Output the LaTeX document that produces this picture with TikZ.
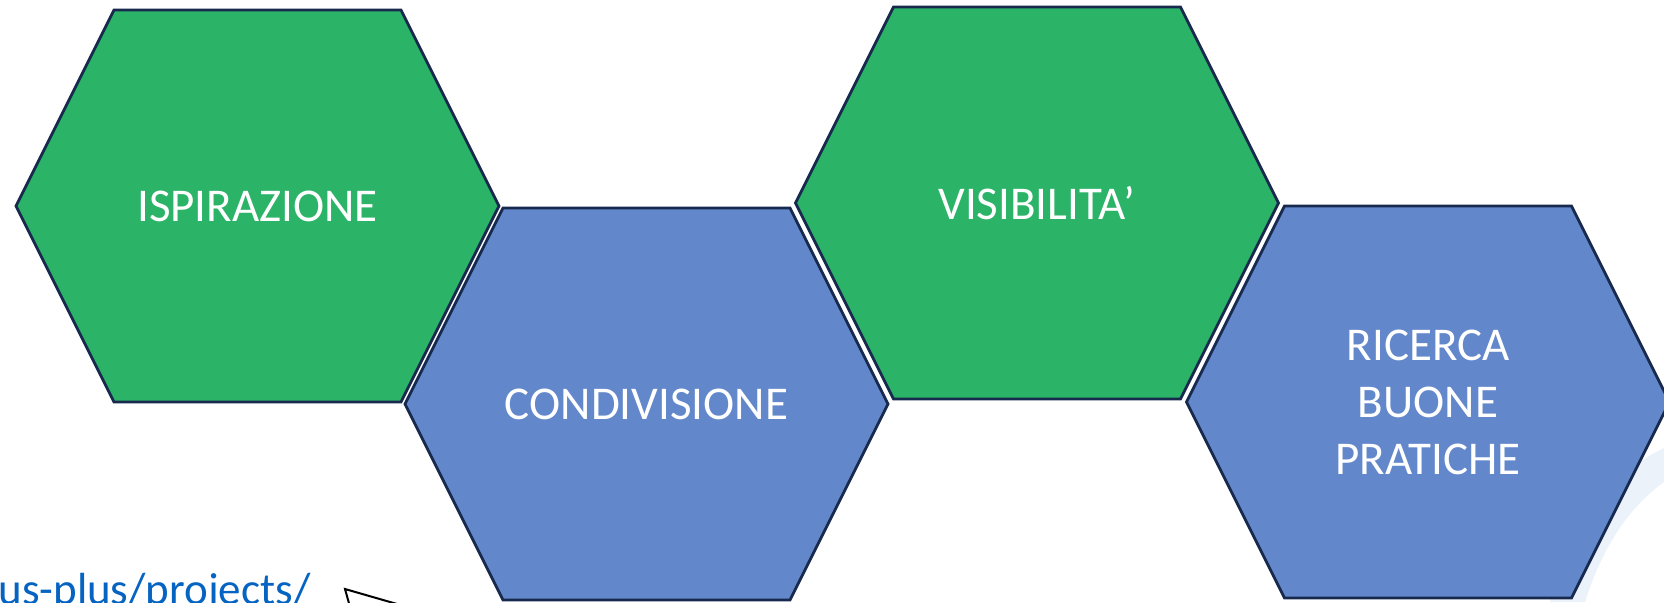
\documentclass[tikz,border=0pt]{standalone}
\usepackage{tikz}
\usepackage{fontspec,xcolor}
\setmainfont{Carlito}
\definecolor{hexGreen}{RGB}{43,179,103}
\definecolor{hexBlue}{RGB}{98,135,203}
\definecolor{hexLine}{RGB}{24,41,78}
\definecolor{linkBlue}{RGB}{5,99,193}
\definecolor{swoosh}{RGB}{236,242,249}
\tikzset{
  hexbox/.style={draw=hexLine, line width=1.4pt, line join=miter},
  hexlabel/.style={text=white, align=center, font=\fontsize{23.5}{28.5}\selectfont}
}
\newcommand{\hexBlock}[5]{%
  \draw[hexbox, fill=#4, shift={(#2,#3)}]
    (-241.5,0) -- (-143.5,-196) -- (143.5,-196) -- (241.5,0)
    -- (143.5,196) -- (-143.5,196) -- cycle;
  \node[hexlabel] (#1) at (#2,#3) {#5};%
}

\begin{document}
\begin{tikzpicture}[x=0.5pt,y=-0.5pt]
\useasboundingbox (0,0) rectangle (1664,602);
\clip (0,0) rectangle (1664,602);
\fill[swoosh] (1664,448) .. controls (1612,472) and (1568,530) .. (1550,602)
  -- (1585,602) .. controls (1602,548) and (1628,508) .. (1664,482) -- cycle;
\hexBlock{ispirazione}{257.5}{206}{hexGreen}{ISPIRAZIONE}
\hexBlock{condivisione}{646.5}{404}{hexBlue}{CONDIVISIONE}
\hexBlock{visibilita}{1037}{203}{hexGreen}{VISIBILITA’}
\hexBlock{ricerca}{1428}{402}{hexBlue}{RICERCA\\BUONE\\PRATICHE}
\node[anchor=base west, inner sep=0pt, text=linkBlue,
  font=\fontsize{22.5}{27}\selectfont] (link) at (-2,604) {us-plus/projects/};
\filldraw[fill=white, draw=black, line width=1pt, line join=miter]
  (345,589) -- (404,606) -- (352,614) -- cycle;
\end{tikzpicture}
\end{document}
